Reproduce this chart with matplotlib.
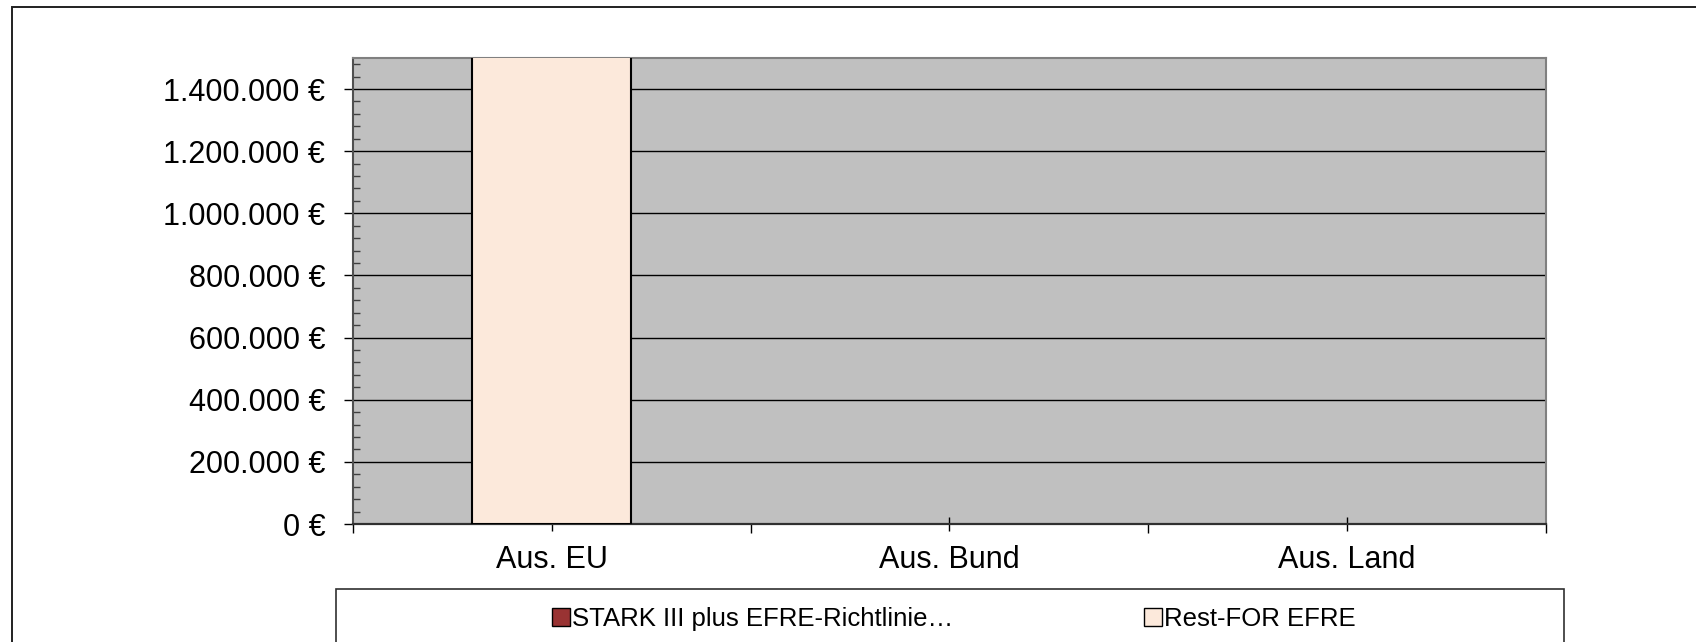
import matplotlib
matplotlib.use("Agg")
import matplotlib.pyplot as plt
from matplotlib.patches import Patch, Rectangle
from matplotlib.ticker import FixedLocator, MultipleLocator, FuncFormatter
import numpy as np

plt.rcParams['font.family'] = ['Liberation Sans', 'DejaVu Sans']

categories = ["Aus. EU", "Aus. Bund", "Aus. Land"]
series_names = ["STARK III plus EFRE-Richtlinie\u2026", "Rest-FOR EFRE"]
stark_values = [0, 0, 0]
rest_values = [1650000, 0, 0]
y_ticks = [0, 200000, 400000, 600000, 800000, 1000000, 1200000, 1400000]

W, H = 1696, 642
fig = plt.figure(figsize=(W / 100, H / 100), dpi=100)
fig.patch.set_facecolor('white')

# outer chart frame (cut off at right and bottom)
fig.add_artist(Rectangle((12 / W, -0.2), 1.2, 1.2 - 7 / H,
                         transform=fig.transFigure, fill=False,
                         edgecolor='#202020', linewidth=1.4))

left, right, top, bottom = 353, 1546, 58, 524
ax = fig.add_axes([left / W, 1 - bottom / H, (right - left) / W, (bottom - top) / H])
ax.set_facecolor('#C0C0C0')

x = np.arange(len(categories))
c_stark = '#993333'
c_rest = '#FCE9DB'


def edges(vals):
    return ['black' if v > 0 else 'none' for v in vals]


ax.bar(x, stark_values, width=0.4, color=c_stark, edgecolor=edges(stark_values),
       linewidth=1.5, zorder=3)
ax.bar(x, rest_values, width=0.4, bottom=stark_values, color=c_rest,
       edgecolor=edges(rest_values), linewidth=1.5, zorder=3)

ax.set_xlim(-0.5, len(categories) - 0.5)
ax.set_ylim(0, 1500000)

ax.yaxis.set_major_locator(FixedLocator(y_ticks))
ax.yaxis.set_minor_locator(MultipleLocator(40000))
ax.yaxis.set_major_formatter(FuncFormatter(lambda v, p: f"{int(v):,} €".replace(",", ".")))
ax.grid(axis='y', which='major', color='black', linewidth=1.0, zorder=1)
ax.set_axisbelow(True)

ax.tick_params(axis='y', which='major', direction='out', length=6.5, width=1.0,
               color='black', labelsize=22, pad=13.5)
ax.tick_params(axis='y', which='minor', direction='in', length=5, width=1.0, color='#404040')

ax.set_xticks(x)
ax.set_xticklabels(categories)
ax.xaxis.set_minor_locator(FixedLocator(np.arange(len(categories) + 1) - 0.5))
ax.tick_params(axis='x', which='major', direction='inout', length=10, width=1.0,
               color='black', labelsize=22, pad=10.2)
ax.tick_params(axis='x', which='minor', direction='out', length=6.5, width=1.0, color='black')

for s in ['top', 'right']:
    ax.spines[s].set_color('#808080')
    ax.spines[s].set_linewidth(1.5)
ax.spines['left'].set_color('#505050')
ax.spines['left'].set_linewidth(1.5)
ax.spines['bottom'].set_color('#303030')
ax.spines['bottom'].set_linewidth(1.6)

# legend box
fig.add_artist(Rectangle((336 / W, -0.2), (1564 - 336) / W, 0.2 + 1 - 589 / H,
                         transform=fig.transFigure, fill=False,
                         edgecolor='#303030', linewidth=1.2))
handles = [Patch(facecolor=c_stark, edgecolor='black', linewidth=1.0),
           Patch(facecolor=c_rest, edgecolor='black', linewidth=1.0)]
fig.legend(handles, series_names, loc='center', bbox_to_anchor=(954 / W, 1 - 619 / H),
           ncol=2, frameon=False, fontsize=18.5, handlelength=0.7, handleheight=0.7,
           handletextpad=0.1, columnspacing=7.4, borderpad=0)

fig.savefig('out.png', dpi=100)
